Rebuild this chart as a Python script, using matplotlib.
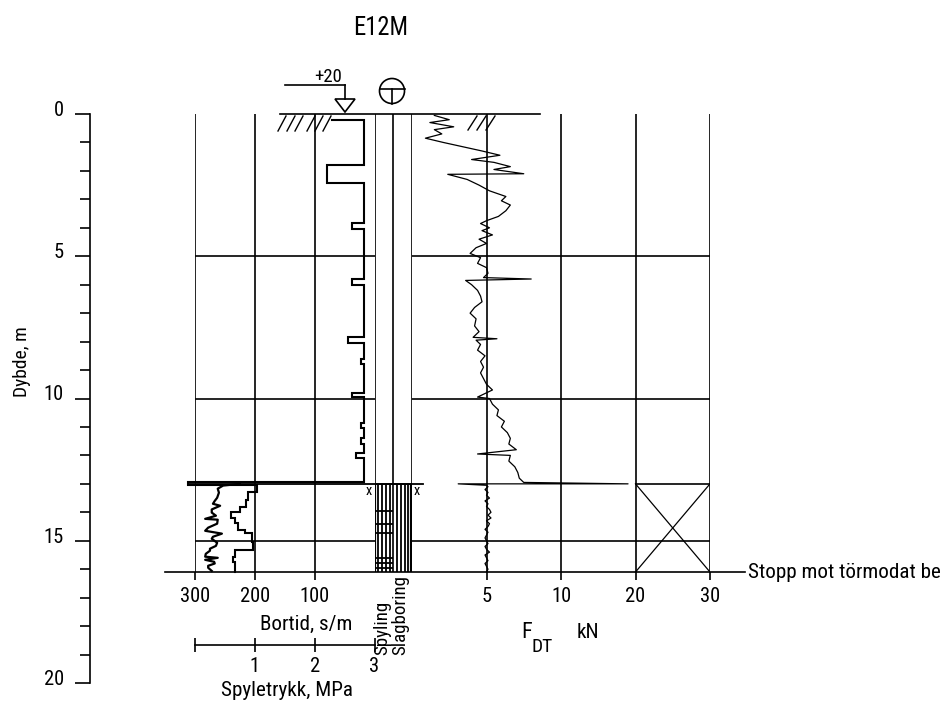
import numpy as np
import matplotlib
matplotlib.use('Agg')
import matplotlib.pyplot as plt
from matplotlib import font_manager
from matplotlib.patches import Ellipse, Polygon
from matplotlib.transforms import blended_transform_factory as blend, ScaledTranslation

# pick the narrowest installed sans family (the reference uses a narrow CAD font)
_fonts = font_manager.fontManager.ttflist
FAMILY, STRETCH = 'DejaVu Sans', 'normal'
for name, stretch in [('Liberation Sans Narrow', None), ('Roboto Condensed', None),
                      ('DejaVu Sans', 'condensed'), ('Open Sans Condensed', None),
                      ('Noto Sans', 'condensed')]:
    if any(f.name == name and (stretch is None or f.stretch == stretch) for f in _fonts):
        FAMILY, STRETCH = name, (stretch or 'normal')
        break
plt.rcParams['font.family'] = [FAMILY, 'DejaVu Sans']
plt.rcParams['font.stretch'] = STRETCH

# ---------------- data ----------------
TITLE = 'E12M'
WATER_LABEL = '+20'
STOP_TEXT = 'Stopp mot törmodat be'
ROCK_DEPTH = 13.0
STOP_DEPTH = 16.1
DEPTH_MAX = 20
DEPTH_MAJOR = [0, 5, 10, 15, 20]
DEPTH_MINOR = list(range(0, 21))
DEPTH_GRID = [5, 10, 15]
BORTID_TICKS = [300, 200, 100]
BORTID_LABELS = ['300', '200', '100']
SPYLE_TICKS = [0, 1, 2, 3]
SPYLE_LABELS = ['', '1', '2', '3']
F_TICKS = [5, 10, 20, 30]
F_LABELS = ['5', '10', '20', '30']

# Bortid (s/m), step trace: value holds from depth[i] to depth[i+1]
bortid_depth = [0.21, 0.21, 1.80, 2.43, 3.84, 4.05, 5.80, 6.00, 7.85, 8.06, 8.60, 8.80,
                9.80, 9.96, 10.85, 11.05, 11.40, 11.60, 11.90, 12.10, 12.92, 13.03,
                13.27, 13.57, 13.80, 13.98, 14.21, 14.39, 14.62, 14.74, 15.03, 15.32,
                15.56, 15.74, 16.10]
bortid_value = [71, 17.5, 79, 17.5, 37.6, 17.5, 37.6, 17.5, 44, 17.5, 22.6, 17.5,
                37.6, 17.5, 22.6, 17.5, 22.6, 17.5, 31, 17.5, 311, 197,
                211, 214, 225, 239, 233, 228, 217, 205, 203, 233,
                236, 233, 233]

# Spyletrykk (MPa)
spyle_depth = [13.00, 13.06, 13.17, 13.31, 13.49, 13.60, 13.70, 13.77, 13.90, 14.01,
               14.12, 14.23, 14.26, 14.40, 14.54, 14.65, 14.75, 14.86, 14.93, 15.07,
               15.18, 15.28, 15.35, 15.46, 15.56, 15.60, 15.67, 15.74, 15.80, 15.88,
               15.95, 16.06]
spyle_value = [0.75, 0.47, 0.38, 0.40, 0.37, 0.33, 0.30, 0.42, 0.28, 0.28,
               0.35, 0.17, 0.38, 0.37, 0.22, 0.17, 0.45, 0.30, 0.28, 0.37,
               0.35, 0.25, 0.25, 0.18, 0.17, 0.38, 0.17, 0.32, 0.33, 0.22,
               0.22, 0.28]

# Nedpressingskraft F_DT (kN)
f_depth = [0.05, 0.20, 0.30, 0.45, 0.55, 0.70, 0.85, 1.00, 1.15, 1.30, 1.45, 1.60,
           1.70, 1.85, 1.95, 2.10, 2.12, 2.30, 2.50, 2.70, 2.90, 3.05, 3.20, 3.40,
           3.60, 3.75, 3.85, 4.00, 4.10, 4.25, 4.40, 4.55, 4.70, 4.90, 5.05, 5.25,
           5.40, 5.60, 5.75, 5.80, 5.85, 6.00, 6.20, 6.40, 6.60, 6.80, 7.00, 7.20,
           7.45, 7.65, 7.85, 7.90, 7.95, 8.10, 8.30, 8.50, 8.70, 8.90, 9.10, 9.30,
           9.50, 9.70, 9.95, 10.00, 10.20, 10.40, 10.60, 10.80, 11.00, 11.20, 11.40,
           11.60, 11.80, 11.95, 12.00, 12.20, 12.40, 12.60, 12.80, 12.95, 13.00,
           13.00, 13.05, 13.10, 13.20, 13.30, 13.40, 13.50, 13.60, 13.70, 13.80,
           13.90, 14.00, 14.10, 14.20, 14.30, 14.40, 14.50, 14.60, 14.70, 14.80,
           14.90, 15.00, 15.10, 15.20, 15.30, 15.40, 15.50, 15.60, 15.70, 15.80,
           15.90, 16.00, 16.10]
f_value = [1.5, 2.5, 1.2, 2.8, 1.5, 2.0, 0.9, 2.1, 3.4, 4.7, 5.9, 4.0,
           5.5, 6.6, 5.5, 7.5, 2.4, 3.7, 4.5, 5.2, 6.3, 6.0, 6.6, 6.3,
           5.8, 5.0, 4.6, 5.2, 4.7, 5.4, 4.5, 5.0, 4.3, 3.9, 4.6, 4.4,
           5.0, 5.1, 4.8, 8.0, 3.6, 4.0, 4.4, 4.6, 4.7, 4.2, 3.9, 4.3,
           4.2, 4.5, 4.1, 5.7, 4.3, 4.6, 4.4, 4.9, 4.6, 4.8, 4.6, 4.8,
           5.0, 5.4, 4.4, 5.2, 5.4, 5.8, 5.7, 6.2, 6.0, 6.4, 6.6,
           6.5, 7.0, 4.4, 6.6, 6.5, 6.9, 7.1, 7.2, 7.5, 19.0,
           3.1, 5.0, 5.1, 4.9, 5.1, 5.0, 5.2, 4.9, 5.1, 5.0,
           5.2, 5.3, 5.1, 5.3, 5.0, 5.2, 5.1, 4.9, 5.1, 5.0,
           4.9, 5.0, 5.1, 4.9, 5.0, 5.2, 4.9, 5.0, 5.1, 4.9,
           5.0, 5.1, 5.0]

# Spyling / slagboring activity (depth intervals) and spyling marks
spyling_interval = (13.0, 16.1)
slagboring_interval = (13.0, 16.1)
spyling_marks = [13.94, 14.40, 14.72, 15.60, 15.77, 15.95]

# ---------------- layout ----------------
W, H = 946, 708
Y0, Y1 = 114, 683       # pixel rows of depth 0 and depth 20
LW = 1.2
K = 'black'

fig = plt.figure(figsize=(W / 100, H / 100), dpi=100)
_renderer = fig.canvas.get_renderer()


def fit(text, target_px, cap=40):
    """font size (pt) that makes `text` about target_px wide in the chosen family"""
    t = fig.text(0, 0, text, fontsize=10)
    w = t.get_window_extent(_renderer).width
    t.remove()
    return min(cap, 10 * target_px / w)


TICK_FS = fit('300', 30, cap=15.5)
LAB_FS = fit(STOP_TEXT, 192, cap=16)
TITLE_FS = fit(TITLE, 55, cap=19)
ROT_FS = fit('Slagboring', 80, cap=15)


def rect(x0, x1):
    return [x0 / W, (H - Y1) / H, (x1 - x0) / W, (Y1 - Y0) / H]


ov = fig.add_axes([0, 0, 1, 1])
ov.set_xlim(0, W)
ov.set_ylim(H, 0)
ov.axis('off')

# depth axis
axd = fig.add_axes(rect(90, 91))
axd.set_ylim(DEPTH_MAX, 0)
axd.set_xlim(0, 1)
for s in ['top', 'right', 'bottom']:
    axd.spines[s].set_visible(False)
axd.spines['left'].set_linewidth(LW)
axd.patch.set_visible(False)
axd.set_xticks([])
axd.set_yticks(DEPTH_MAJOR)
axd.set_yticks(DEPTH_MINOR, minor=True)
axd.tick_params(axis='y', which='major', length=10.8, width=LW, labelsize=TICK_FS, pad=8)
axd.tick_params(axis='y', which='minor', length=7.2, width=LW)
for lab in axd.get_yticklabels():
    lab.set_transform(lab.get_transform() + ScaledTranslation(0, 4 / 72, fig.dpi_scale_trans))
ov.text(22, 362, 'Dybde, m', rotation=90, ha='center', va='center', fontsize=LAB_FS * 0.92)

# bortid panel
axb = fig.add_axes(rect(195, 374.5))
axb.set_xlim(300, 0)
axb.set_ylim(DEPTH_MAX, 0)
axb.axis('off')
axb.vlines(BORTID_TICKS, 0, STOP_DEPTH, color=K, lw=LW)
axb.hlines(DEPTH_GRID, 300, 0, color=K, lw=LW)
bx, by = [], []
for i in range(len(bortid_value) - 1):
    bx += [bortid_value[i], bortid_value[i]]
    by += [bortid_depth[i], bortid_depth[i + 1]]
axb.plot(bx, by, color=K, lw=1.5, clip_on=False, solid_joinstyle='miter')
tb = blend(axb.transData, ov.transData)
axb.vlines(BORTID_TICKS, 572, 580, color=K, lw=LW, transform=tb, clip_on=False)
for v, s in zip(BORTID_TICKS, BORTID_LABELS):
    axb.text(v, 597, s, transform=tb, ha='center', va='center', fontsize=TICK_FS)

# spyletrykk (shares bortid panel area)
axs = fig.add_axes(rect(195, 374.5))
axs.set_xlim(0, 3)
axs.set_ylim(DEPTH_MAX, 0)
axs.axis('off')
axs.plot(spyle_value, spyle_depth, color=K, lw=1.6, clip_on=False)
ts = blend(axs.transData, ov.transData)
axs.plot([0, 3], [645, 645], color=K, lw=LW, transform=ts, clip_on=False)
axs.vlines(SPYLE_TICKS, 638, 652, color=K, lw=LW, transform=ts, clip_on=False)
for v, s in zip(SPYLE_TICKS, SPYLE_LABELS):
    axs.text(v, 666, s, transform=ts, ha='center', va='center', fontsize=TICK_FS)

# spyling / slagboring column
axc = fig.add_axes(rect(374.5, 412))
axc.set_xlim(0, 2)
axc.set_ylim(DEPTH_MAX, 0)
axc.axis('off')
axc.vlines([0, 1, 2], 0, STOP_DEPTH, color=K, lw=LW)
axc.vlines([0.2, 0.4, 0.6, 0.8], *spyling_interval, color=K, lw=1.3)
axc.vlines([1.2, 1.4, 1.6, 1.8], *slagboring_interval, color=K, lw=1.3)
axc.vlines([0.03, 1.97], ROCK_DEPTH, STOP_DEPTH, color=K, lw=1.6)
axc.hlines(spyling_marks, 0, 1, color=K, lw=1.3)
axc.hlines([spyling_interval[0]], 0, 2, color=K, lw=LW)

# F_DT panel
def fwd(x):
    x = np.asarray(x, dtype=float)
    return np.where(x <= 10, x, 10 + (x - 10) / 2)


def inv(y):
    y = np.asarray(y, dtype=float)
    return np.where(y <= 10, y, 10 + (y - 10) * 2)


axf = fig.add_axes(rect(412, 710))
axf.set_xscale('function', functions=(fwd, inv))
axf.set_xlim(0, 30)
axf.set_ylim(DEPTH_MAX, 0)
axf.axis('off')
axf.vlines(F_TICKS, 0, STOP_DEPTH, color=K, lw=LW)
axf.hlines(DEPTH_GRID, 0, 30, color=K, lw=LW)
axf.plot([20, 30], [ROCK_DEPTH, ROCK_DEPTH], color=K, lw=LW)
axf.plot([20, 30], [ROCK_DEPTH, STOP_DEPTH], color=K, lw=0.9)
axf.plot([20, 30], [STOP_DEPTH, ROCK_DEPTH], color=K, lw=0.9)
axf.plot(f_value, f_depth, color=K, lw=0.9, clip_on=False)
tf = blend(axf.transData, ov.transData)
axf.vlines(F_TICKS, 572, 580, color=K, lw=LW, transform=tf, clip_on=False)
for v, s in zip(F_TICKS, F_LABELS):
    axf.text(v, 597, s, transform=tf, ha='center', va='center', fontsize=TICK_FS)

# lines spanning panels: x in pixels, y in depth
tpd = blend(ov.transData, axb.transData)
ov.plot([165, 745], [STOP_DEPTH, STOP_DEPTH], color=K, lw=LW, transform=tpd, clip_on=False)
ov.plot([280, 540], [0, 0], color=K, lw=LW, transform=tpd, clip_on=False)
ov.plot([188, 423], [ROCK_DEPTH, ROCK_DEPTH], color=K, lw=1.3, transform=tpd, clip_on=False)

# ground hatching
for xb in [278, 287, 295, 307, 315, 323]:
    ov.plot([xb, xb + 8], [131, 116], color=K, lw=1.0)
for xb in [468, 477, 486]:
    ov.plot([xb, xb + 9], [130, 116], color=K, lw=1.0)

# groundwater symbol
ov.plot([285, 345], [85, 85], color=K, lw=LW)
ov.plot([345, 345], [85, 99], color=K, lw=LW)
ov.add_patch(Polygon([[335, 99], [355, 99], [345, 112]], closed=True, fill=False,
                     edgecolor=K, lw=LW))
ov.text(328, 77, WATER_LABEL, ha='center', va='center', fontsize=TICK_FS * 0.92)

# total sounding symbol
ov.add_patch(Ellipse((392, 91), 25, 25, fill=False, edgecolor=K, lw=LW))
ov.plot([379.5, 404.5], [89, 89], color=K, lw=LW)
ov.plot([392, 392], [89, 103.5], color=K, lw=LW)

# x marks at rock level
ov.text(369, 491, 'x', ha='center', va='center', fontsize=TICK_FS * 0.7)
ov.text(417, 491, 'x', ha='center', va='center', fontsize=TICK_FS * 0.7)

# texts
ov.text(381, 28, TITLE, ha='center', va='center', fontsize=TITLE_FS)
ov.text(306, 624, 'Bortid, s/m', ha='center', va='center', fontsize=LAB_FS)
ov.text(287, 690, 'Spyletrykk, MPa', ha='center', va='center', fontsize=LAB_FS)
ov.text(382, 655, 'Spyling', rotation=90, ha='center', va='bottom', fontsize=ROT_FS)
ov.text(400, 655, 'Slagboring', rotation=90, ha='center', va='bottom', fontsize=ROT_FS)
ov.text(527, 633, 'F', ha='center', va='center', fontsize=LAB_FS * 1.05)
ov.text(542, 647, 'DT', ha='center', va='center', fontsize=LAB_FS * 0.92)
ov.text(588, 633, 'kN', ha='center', va='center', fontsize=LAB_FS)
ov.text(748, 573, STOP_TEXT, ha='left', va='center', fontsize=LAB_FS)

fig.savefig('out.png', dpi=100)
